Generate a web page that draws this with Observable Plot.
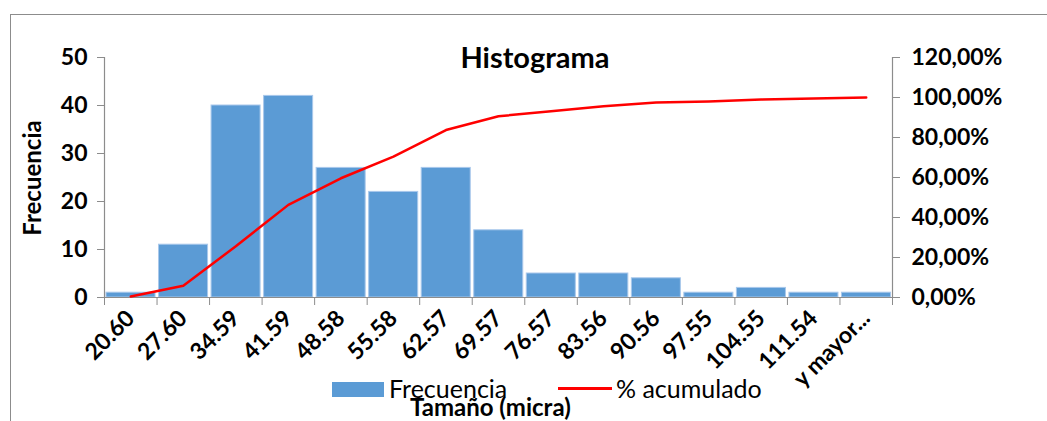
<!DOCTYPE html>
<html>
<head>
<meta charset="utf-8">
<script src="https://cdn.jsdelivr.net/npm/d3@7"></script>
<script src="https://cdn.jsdelivr.net/npm/@observablehq/plot@0.6"></script>
<style>
  html, body { margin: 0; padding: 0; background: #fff; }
  #wrap { position: relative; width: 1047px; height: 421px; overflow: hidden; font-family: Lato, "Open Sans", sans-serif; }
  #frame { position: absolute; left: 10px; top: 14px; width: 1100px; height: 500px; border: 1px solid #8c8c8c; box-sizing: border-box; }
  #chart { position: absolute; left: 0; top: 0; }
  .t { position: absolute; white-space: nowrap; color: #000; line-height: 1; }
</style>
</head>
<body>
<div id="wrap">
  <div id="frame"></div>
  <div id="chart"></div>
  <div class="t" id="title" style="left:0;width:1070px;text-align:center;top:42px;font-weight:bold;font-size:29px;">Histograma</div>
  <div class="t" id="ytitle" style="left:32px;top:178px;font-weight:bold;font-size:24px;transform:translate(-50%,-50%) rotate(-90deg);">Frecuencia</div>
  <span class="t" style="left:332px;top:382px;width:52px;height:15px;background:#5B9BD5;"></span>
  <span class="t" style="left:389px;top:376px;font-size:25px;">Frecuencia</span>
  <span class="t" style="left:558px;top:387px;width:54px;height:3px;background:#FF0000;"></span>
  <span class="t" style="left:616px;top:376px;font-size:25px;">% acumulado</span>
  <div class="t" id="xtitle" style="left:410px;top:395px;font-weight:bold;font-size:24px;">Tamaño (micra)</div>
</div>
<script>
const categories = ["20.60","27.60","34.59","41.59","48.58","55.58","62.57","69.57","76.57","83.56","90.56","97.55","104.55","111.54","y mayor..."];
const frecuencia = [1, 11, 40, 42, 27, 22, 27, 14, 5, 5, 4, 1, 2, 1, 1];
const acumulado = [0.49, 5.91, 25.62, 46.31, 59.61, 70.44, 83.74, 90.64, 93.10, 95.57, 97.54, 98.03, 99.01, 99.51, 100.00];
const leftTicks = [0, 10, 20, 30, 40, 50];
const rightTicks = [0, 20, 40, 60, 80, 100, 120];

const yMax = 50, pMax = 120;
const toY = p => p * yMax / pMax;
const data = categories.map((c, i) => ({c, i, f: frecuencia[i], p: acumulado[i]}));
const gray = "#8c8c8c";
const fmtPct = v => (v * pMax / yMax).toFixed(2).replace(".", ",") + "%";

const chart = Plot.plot({
  width: 1047,
  height: 421,
  marginLeft: 104,
  marginRight: 155,
  marginTop: 57,
  marginBottom: 124,
  style: {fontFamily: "Lato, 'Open Sans', sans-serif", color: "#000", background: "transparent"},
  x: {domain: [0, categories.length]},
  y: {domain: [0, yMax]},
  marks: [
    Plot.rectY(data, {x1: "i", x2: d => d.i + 1, y: "f", fill: "#5B9BD5", stroke: "#A9C8EB", strokeWidth: 1, insetLeft: 2, insetRight: 1.5}),
    Plot.ruleY([0], {stroke: gray, strokeWidth: 1.2}),
    Plot.ruleX([0], {stroke: gray, strokeWidth: 1.2}),
    Plot.ruleX([categories.length], {stroke: gray, strokeWidth: 1.2, y1: 0, y2: yMax}),
    Plot.axisY(leftTicks, {anchor: "left", tickSize: 7, tickPadding: 10, stroke: gray, fontSize: 23, fontWeight: "bold", label: null}),
    Plot.axisY(rightTicks.map(toY), {anchor: "right", tickSize: 7, tickPadding: 12, stroke: gray, fontSize: 23, fontWeight: "bold", tickFormat: fmtPct, label: null}),
    Plot.axisX(d3.range(categories.length + 1), {tickSize: 8, stroke: gray, tickFormat: () => "", label: null}),
    Plot.axisX(data.map(d => d.i + 0.5), {tickSize: 0, tickPadding: 17, tickRotate: -45, fontSize: 23, fontWeight: "bold", tickFormat: v => categories[Math.floor(v)], label: null}),
    Plot.line(data, {x: d => d.i + 0.5, y: d => toY(d.p), stroke: "#FF0000", strokeWidth: 2.5})
  ]
});
document.getElementById("chart").appendChild(chart);
</script>
</body>
</html>
